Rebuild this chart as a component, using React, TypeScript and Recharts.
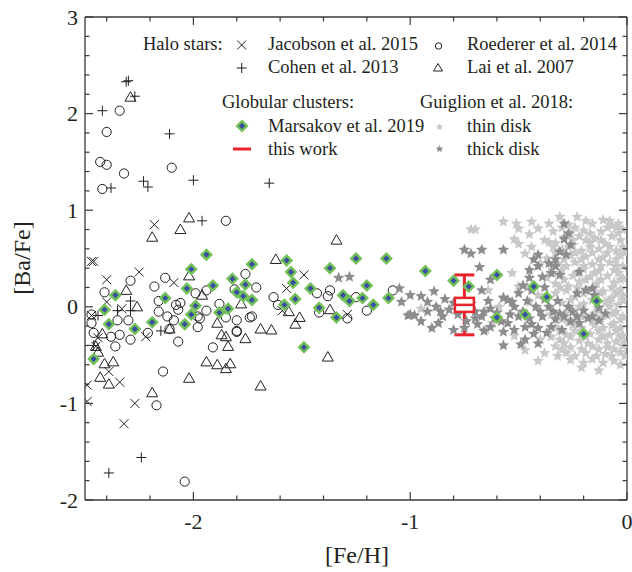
import { ScatterChart, Scatter, XAxis, YAxis, ErrorBar } from "recharts";

const W = 632;
const H = 572;
const FRAME = "#3a3a3a";
const INK = "#231f20";
const BLUE = "#3b4f9f";
const GREEN = "#72c058";
const RED = "#e8232b";
const THIN = "#c8c8c9";
const THICK = "#8c8c8e";
const FONT = "'Liberation Serif', 'Times New Roman', serif";

// axis ticks (minor every 0.2, labels on integers)
const xTicks = [-2.4, -2.2, -2, -1.8, -1.6, -1.4, -1.2, -1, -0.8, -0.6, -0.4, -0.2, 0];
const yTicks = [-2, -1.8, -1.6, -1.4, -1.2, -1, -0.8, -0.6, -0.4, -0.2, 0, 0.2, 0.4, 0.6, 0.8, 1, 1.2, 1.4, 1.6, 1.8, 2, 2.2, 2.4, 2.6, 2.8, 3];

// Halo stars: [Fe/H], [Ba/Fe]
const jacobson = [
  [-2.47, 0.47], [-2.46, 0.47], [-2.4, 0.28], [-2.25, 0.36], [-2.09, 0.25], [-2.18, 0.85],
  [-2.4, 0.05], [-2.33, -0.02], [-2.22, -0.31], [-2.45, -0.41], [-2.47, -0.09], [-2.44, -0.32],
  [-2.39, -0.67], [-2.34, -0.78], [-2.49, -0.98], [-2.27, -1.0], [-2.32, -1.21], [-2.49, -0.81],
  [-1.49, 0.33], [-1.57, 0.19], [-1.59, -0.04], [-1.29, -0.08],
];

const cohen = [
  [-2.31, 2.33], [-2.3, 2.34], [-2.27, 2.18], [-2.42, 2.03], [-2.11, 1.79], [-2.38, 1.23],
  [-2.23, 1.3], [-2.21, 1.24], [-2.0, 1.31], [-1.96, 0.89], [-1.65, 1.28], [-2.44, -0.09],
  [-2.29, 0.06], [-2.35, -0.04], [-2.29, -0.04], [-2.15, -0.25], [-2.46, -0.4], [-2.24, -1.56],
  [-2.39, -1.72],
];

const roederer = [
  [-2.34, 2.03], [-2.4, 1.81], [-2.43, 1.5], [-2.4, 1.47], [-2.1, 1.44], [-2.32, 1.38],
  [-2.42, 1.22], [-1.85, 0.89], [-2.29, 0.27], [-2.13, 0.3], [-2.18, 0.21], [-2.41, 0.15],
  [-2.16, 0.06], [-2.16, -0.05], [-2.12, -0.1], [-2.08, 0.02], [-2.06, 0.04], [-2.07, -0.03],
  [-2.09, -0.14], [-2.11, -0.23], [-2.07, -0.36], [-2.47, -0.08], [-2.47, -0.17], [-2.46, -0.27],
  [-2.35, -0.14], [-2.3, -0.14], [-2.34, -0.29], [-2.38, -0.31], [-2.36, -0.41], [-2.29, -0.34],
  [-2.21, -0.27], [-1.98, -0.21], [-1.98, -0.1], [-1.99, 0.14], [-2.14, -0.67], [-2.17, -1.02],
  [-2.04, -1.81], [-1.91, -0.42], [-1.8, -0.26], [-1.76, 0.34], [-1.71, 0.2], [-1.81, 0.18],
  [-1.94, 0.17], [-1.88, 0.03], [-1.94, -0.04], [-1.97, -0.12], [-1.85, -0.11], [-1.8, -0.14],
  [-1.74, -0.11], [-1.8, -0.25], [-1.63, 0.1], [-1.61, 0.02], [-1.37, 0.17], [-1.43, 0.14],
  [-1.38, 0.11], [-1.42, -0.06], [-1.25, 0.1], [-1.2, -0.04], [-1.08, 0.17], [-1.29, -0.12],
  [-1.73, -0.1],
];

const lai = [
  [-2.29, 2.17], [-2.02, 0.92], [-2.06, 0.8], [-2.19, 0.72], [-2.31, 0.17], [-2.26, 0.0],
  [-2.02, 0.32], [-1.96, 0.12], [-1.78, 0.03], [-1.34, 0.69], [-1.62, 0.49], [-1.51, -0.11],
  [-1.53, -0.18], [-1.56, -0.05], [-1.69, -0.23], [-1.64, -0.24], [-1.37, -0.03], [-1.89, -0.17],
  [-1.87, -0.29], [-1.85, -0.31], [-1.76, -0.33], [-1.84, -0.41], [-2.42, -0.28], [-2.37, -0.57],
  [-2.41, -0.59], [-2.43, -0.73], [-2.39, -0.8], [-2.19, -0.89], [-2.02, -0.74], [-1.94, -0.57],
  [-1.89, -0.6], [-1.85, -0.64], [-1.83, -0.59], [-1.69, -0.82], [-1.38, -0.52], [-2.45, -0.41],
  [-2.44, -0.47], [-2.11, -0.23],
];

// Globular clusters
const marsakov = [
  [-2.46, -0.54], [-2.36, 0.12], [-2.41, -0.03], [-2.39, -0.18], [-2.27, -0.23], [-2.19, -0.16],
  [-2.13, 0.09], [-2.01, 0.39], [-2.03, 0.19], [-1.94, 0.54], [-1.99, 0.01], [-2.01, -0.08],
  [-2.04, -0.18], [-1.91, 0.22], [-1.88, -0.06], [-1.84, -0.02], [-1.82, 0.29], [-1.8, 0.15],
  [-1.76, 0.23], [-1.77, 0.11], [-1.73, 0.07], [-1.73, 0.44], [-1.57, 0.48], [-1.55, 0.36],
  [-1.54, 0.25], [-1.53, 0.08], [-1.58, 0.02], [-1.46, 0.19], [-1.42, -0.01], [-1.34, -0.11],
  [-1.37, 0.4], [-1.25, 0.5], [-1.11, 0.5], [-0.93, 0.37], [-1.31, 0.12], [-1.28, 0.06],
  [-1.22, 0.09], [-1.2, 0.22], [-1.17, 0.02], [-1.1, 0.09], [-1.49, -0.42], [-0.8, 0.27],
  [-0.73, 0.21], [-0.6, 0.33], [-0.6, -0.11], [-0.47, -0.08], [-0.43, 0.21], [-0.37, 0.1],
  [-0.14, 0.06], [-0.2, -0.28],
];

// Guiglion et al. 2018
const thinDisk = [
  [-0.72, 0.8], [-0.7, 0.8], [-0.57, 0.88], [-0.51, 0.86], [-0.5, 0.81], [-0.41, 0.81],
  [-0.52, 0.7], [-0.5, 0.65], [-0.38, 0.69], [-0.53, 0.35], [-0.95, -0.02], [-0.57, 0.1],
  [-0.59, 0.0], [-0.64, 0.17], [-0.5, 0.21], [-0.62, -0.17], [-0.65, -0.24], [-0.4, -0.34],
  [-0.77, 0.0], [-0.45, 0.75], [-0.44, 0.62], [-0.47, 0.55], [-0.4, 0.45], [-0.44, 0.88],
  [-0.36, 0.86], [-0.46, 0.2], [-0.45, 0.05], [-0.52, -0.3], [-0.47, -0.45], [-0.38, -0.48],
  [-0.41, -0.56],
  [-0.31, 0.93], [-0.23, 0.93], [-0.11, 0.9], [-0.04, 0.86], [-0.19, 0.89], [-0.08, 0.89],
  [-0.27, 0.85], [-0.16, 0.86], [-0.07, 0.84],
  [-0.3, 0.82], [-0.24, 0.82], [-0.09, 0.82], [-0.05, 0.82],
  [-0.34, 0.78], [-0.2, 0.79], [-0.12, 0.78], [-0.02, 0.8],
  [-0.26, 0.76], [-0.17, 0.76], [-0.04, 0.76],
  [-0.29, 0.72], [-0.22, 0.73], [-0.15, 0.71], [-0.07, 0.73], [-0.36, 0.67],
  [-0.25, 0.69], [-0.19, 0.69], [-0.12, 0.69], [-0.03, 0.69],
  [-0.33, 0.66], [-0.25, 0.64], [-0.17, 0.66], [-0.1, 0.65], [-0.02, 0.62],
  [-0.34, 0.62], [-0.27, 0.62], [-0.17, 0.62], [-0.08, 0.62],
  [-0.3, 0.59], [-0.21, 0.58], [-0.13, 0.6], [-0.05, 0.58],
  [-0.33, 0.56], [-0.24, 0.56], [-0.16, 0.56], [-0.09, 0.56], [-0.01, 0.56],
  [-0.37, 0.5], [-0.26, 0.53], [-0.19, 0.52], [-0.11, 0.51], [-0.03, 0.53],
  [-0.29, 0.49], [-0.21, 0.49], [-0.13, 0.49], [-0.05, 0.49],
  [-0.32, 0.45], [-0.24, 0.46], [-0.16, 0.44], [-0.08, 0.46], [-0.02, 0.42],
  [-0.35, 0.42], [-0.28, 0.42], [-0.2, 0.42], [-0.12, 0.42], [-0.05, 0.42],
  [-0.3, 0.38], [-0.2, 0.39], [-0.13, 0.37], [-0.06, 0.38],
  [-0.34, 0.35], [-0.23, 0.35], [-0.15, 0.35], [-0.04, 0.35],
  [-0.37, 0.3], [-0.25, 0.32], [-0.17, 0.31], [-0.09, 0.32], [-0.02, 0.3],
  [-0.29, 0.28], [-0.19, 0.28], [-0.12, 0.28], [-0.03, 0.28],
  [-0.33, 0.24], [-0.27, 0.21], [-0.22, 0.26], [-0.14, 0.24], [-0.06, 0.25],
  [-0.31, 0.2], [-0.23, 0.2], [-0.15, 0.2], [-0.07, 0.2],
  [-0.28, 0.17], [-0.19, 0.18], [-0.11, 0.16], [-0.03, 0.18],
  [-0.33, 0.14], [-0.2, 0.14], [-0.12, 0.14], [-0.05, 0.14],
  [-0.41, 0.12], [-0.24, 0.1], [-0.15, 0.11], [-0.07, 0.09], [-0.02, 0.12],
  [-0.26, 0.07], [-0.16, 0.07], [-0.08, 0.07], [-0.02, 0.07],
  [-0.3, 0.04], [-0.2, 0.03], [-0.1, 0.05], [-0.04, 0.02],
  [-0.22, 0.0], [-0.08, 0.0],
  [-0.26, -0.03], [-0.13, -0.04], [-0.05, -0.05],
  [-0.29, -0.07], [-0.15, -0.07], [-0.06, -0.07],
  [-0.35, -0.08], [-0.21, -0.1], [-0.09, -0.09], [-0.02, -0.1],
  [-0.3, -0.13], [-0.23, -0.13], [-0.12, -0.13], [-0.03, -0.13],
  [-0.27, -0.16], [-0.16, -0.15], [-0.06, -0.17],
  [-0.25, -0.19], [-0.15, -0.19], [-0.07, -0.19],
  [-0.33, -0.21], [-0.21, -0.22], [-0.11, -0.22], [-0.03, -0.22],
  [-0.31, -0.25], [-0.24, -0.25], [-0.13, -0.25], [-0.05, -0.25],
  [-0.28, -0.29], [-0.17, -0.28], [-0.08, -0.29], [-0.02, -0.3],
  [-0.35, -0.31], [-0.26, -0.31], [-0.19, -0.31], [-0.11, -0.31], [-0.03, -0.31],
  [-0.31, -0.34], [-0.22, -0.35], [-0.13, -0.34], [-0.05, -0.36],
  [-0.29, -0.38], [-0.18, -0.38], [-0.09, -0.38], [-0.01, -0.38],
  [-0.33, -0.41], [-0.26, -0.42], [-0.16, -0.41], [-0.09, -0.42], [-0.02, -0.4],
  [-0.3, -0.44], [-0.21, -0.44], [-0.13, -0.44], [-0.06, -0.44],
  [-0.28, -0.48], [-0.19, -0.48], [-0.1, -0.49], [-0.03, -0.47],
  [-0.32, -0.51], [-0.24, -0.51], [-0.14, -0.51], [-0.07, -0.51], [-0.01, -0.51],
  [-0.26, -0.55], [-0.16, -0.54], [-0.06, -0.56],
  [-0.2, -0.58], [-0.11, -0.58],
  [-0.21, -0.63], [-0.03, -0.6], [-0.13, -0.66],
];

const thickDisk = [
  [-1.33, 0.3], [-1.28, 0.31], [-1.05, 0.19], [-1.0, 0.12], [-1.04, 0.05], [-0.95, 0.11],
  [-0.89, 0.16], [-0.92, 0.05], [-1.0, -0.08], [-1.01, -0.09], [-0.98, -0.09], [-0.87, -0.17],
  [-0.88, 0.0], [-0.75, 0.59], [-0.72, 0.55], [-0.67, 0.59], [-0.57, 0.59], [-0.68, 0.41],
  [-0.47, -0.34], [-0.41, -0.38], [-0.8, -0.24], [-0.29, 0.86], [-0.29, 0.7], [-0.27, 0.76],
  [-0.28, 0.54], [-0.33, 0.49], [-0.41, 0.54], [-0.43, 0.49], [-0.45, 0.38], [-0.41, 0.42],
  [-0.39, 0.31], [-0.35, 0.35], [-0.31, 0.33], [-0.22, 0.36], [-0.16, 0.19], [-0.23, 0.14],
  [-0.5, 0.14], [-0.55, 0.07], [-0.45, 0.3], [-0.67, 0.17], [-0.63, 0.28], [-0.57, 0.09],
  [-0.52, 0.0], [-0.5, -0.1], [-0.42, 0.0], [-0.36, 0.0], [-0.31, -0.07], [-0.27, 0.0],
  [-0.23, -0.1], [-0.19, 0.17], [-0.16, -0.1], [-0.1, -0.07], [-0.3, -0.24], [-0.35, -0.21],
  [-0.41, -0.22], [-0.47, -0.21], [-0.37, -0.27], [-0.67, -0.1], [-0.63, -0.02], [-0.7, -0.05],
  [-0.82, -0.03], [-0.85, -0.1], [-0.63, -0.21], [-0.57, -0.26], [-0.57, -0.4], [-0.49, -0.39],
  [-0.15, 0.12], [-0.78, -0.08], [-0.74, -0.15], [-0.69, -0.18], [-0.61, -0.12], [-0.55, -0.17],
  [-0.45, -0.12], [-0.39, -0.1], [-0.33, -0.13], [-0.26, -0.15], [-0.2, -0.04], [-0.13, -0.01],
  [-0.84, 0.08], [-0.86, -0.05], [-0.8, 0.04], [-0.76, -0.02], [-0.72, 0.03], [-0.7, -0.12],
  [-0.66, -0.05], [-0.64, 0.06], [-0.6, -0.06], [-0.58, -0.15], [-0.54, -0.08], [-0.53, 0.05],
  [-0.48, -0.05], [-0.46, 0.06], [-0.44, -0.18], [-0.4, -0.05], [-0.38, 0.08], [-0.34, -0.05],
  [-0.32, 0.06], [-0.29, -0.1], [-0.25, -0.05], [-0.22, -0.17], [-0.18, -0.12], [-0.13, -0.14],
  [-0.52, -0.24], [-0.43, -0.28], [-0.66, -0.25], [-0.75, -0.22], [-0.92, -0.05], [-0.95, -0.15],
  [-0.9, -0.22], [-0.48, 0.22], [-0.44, 0.17], [-0.38, 0.2], [-0.36, 0.45], [-0.33, 0.42],
  [-0.31, 0.57], [-0.26, 0.64],
];

// this work: mean with error
const thisWork = [{ x: -0.75, y: 0.02, err: 0.31 }];

const pts = (a: number[][]) => a.map(([x, y]) => ({ x, y }));

const isMajor = (v: number) => Math.abs(v - Math.round(v)) < 1e-6;
const tickLen = (v: number) => (isMajor(v) ? 8 : 4.5);
const fmt = (v: number) => String(Math.round(v) + 0);

const BottomTick = ({ x, y, payload }: any) => (
  <g>
    <line x1={x} x2={x} y1={y} y2={y - tickLen(payload.value)} stroke={FRAME} strokeWidth={1.2} />
    {isMajor(payload.value) && (
      <text x={x} y={y + 29} textAnchor="middle" fontSize={22} fontFamily={FONT} fill={INK}>
        {fmt(payload.value)}
      </text>
    )}
  </g>
);
const TopTick = ({ x, y, payload }: any) => (
  <line x1={x} x2={x} y1={y} y2={y + tickLen(payload.value)} stroke={FRAME} strokeWidth={1.2} />
);
const LeftTick = ({ x, y, payload }: any) => (
  <g>
    <line x1={x} x2={x + tickLen(payload.value)} y1={y} y2={y} stroke={FRAME} strokeWidth={1.2} />
    {isMajor(payload.value) && (
      <text x={x - 7} y={y + 7.5} textAnchor="end" fontSize={22} fontFamily={FONT} fill={INK}>
        {fmt(payload.value)}
      </text>
    )}
  </g>
);
const RightTick = ({ x, y, payload }: any) => (
  <line x1={x} x2={x - tickLen(payload.value)} y1={y} y2={y} stroke={FRAME} strokeWidth={1.2} />
);

// marker shapes
const starPath = (cx: number, cy: number, R: number, r: number) => {
  let d = "";
  for (let i = 0; i < 10; i++) {
    const a = -Math.PI / 2 + (i * Math.PI) / 5;
    const rad = i % 2 === 0 ? R : r;
    d += `${i === 0 ? "M" : "L"}${cx + rad * Math.cos(a)},${cy + rad * Math.sin(a)}`;
  }
  return d + "Z";
};
const Circle = ({ cx, cy }: any) => <circle cx={cx} cy={cy} r={4.6} fill="none" stroke={INK} strokeWidth={1} />;
const Tri = ({ cx, cy }: any) => (
  <polygon points={`${cx},${cy - 5.5} ${cx + 5.5},${cy + 4} ${cx - 5.5},${cy + 4}`} fill="none" stroke={INK} strokeWidth={1} />
);
const XMark = ({ cx, cy }: any) => (
  <path d={`M${cx - 4.5},${cy - 4.5}L${cx + 4.5},${cy + 4.5}M${cx - 4.5},${cy + 4.5}L${cx + 4.5},${cy - 4.5}`} stroke={INK} strokeWidth={1} />
);
const PlusMark = ({ cx, cy }: any) => (
  <path d={`M${cx - 5},${cy}L${cx + 5},${cy}M${cx},${cy - 5}L${cx},${cy + 5}`} stroke={INK} strokeWidth={1} />
);
const Diamond = ({ cx, cy }: any) => (
  <polygon points={`${cx},${cy - 4.8} ${cx + 4.8},${cy} ${cx},${cy + 4.8} ${cx - 4.8},${cy}`} fill={BLUE} stroke={GREEN} strokeWidth={2.4} />
);
const ThinStar = ({ cx, cy }: any) => <path d={starPath(cx, cy, 6, 2.7)} fill={THIN} />;
const ThickStar = ({ cx, cy }: any) => <path d={starPath(cx, cy, 6, 2.7)} fill={THICK} />;
const BoxMark = ({ cx, cy }: any) => (
  <g>
    <rect x={cx - 9.5} y={cy - 7} width={19} height={14} fill="#fff" stroke={RED} strokeWidth={2.5} />
    <line x1={cx - 9.5} x2={cx + 9.5} y1={cy} y2={cy} stroke={RED} strokeWidth={2.5} />
  </g>
);

const Legend = () => {
  const t = { fontSize: 18.5, fontFamily: FONT, fill: INK } as const;
  return (
    <svg width={W} height={H} style={{ position: "absolute", left: 0, top: 0, pointerEvents: "none" }}>
      <text x={143} y={50} {...t}>Halo stars:</text>
      <XMark cx={241.7} cy={45} />
      <text x={268} y={50} {...t}>Jacobson et al. 2015</text>
      <circle cx={438.5} cy={46} r={3.2} fill="none" stroke={INK} strokeWidth={1} />
      <text x={467} y={50} {...t}>Roederer et al. 2014</text>
      <PlusMark cx={241.7} cy={68} />
      <text x={268} y={73} {...t}>Cohen et al. 2013</text>
      <polygon points="438,63.5 442.5,71 433.5,71" fill="none" stroke={INK} strokeWidth={1} />
      <text x={467} y={73} {...t}>Lai et al. 2007</text>
      <text x={222} y={108} {...t}>Globular clusters:</text>
      <text x={420} y={108} {...t}>Guiglion et al. 2018:</text>
      <Diamond cx={242} cy={126} />
      <text x={268} y={132} {...t}>Marsakov et al. 2019</text>
      <path d={starPath(439.5, 127, 4, 1.8)} fill={THIN} />
      <text x={467} y={132} {...t}>thin disk</text>
      <line x1={233} x2={251} y1={149} y2={149} stroke={RED} strokeWidth={3} />
      <text x={268} y={155} {...t}>this work</text>
      <path d={starPath(439.5, 149, 4, 1.8)} fill={THICK} />
      <text x={467} y={155} {...t}>thick disk</text>
      <text transform="translate(30,258) rotate(-90)" textAnchor="middle" fontSize={24} fontFamily={FONT} fill={INK}>
        [Ba/Fe]
      </text>
      <text x={357} y={563} textAnchor="middle" fontSize={24} fontFamily={FONT} fill={INK}>
        [Fe/H]
      </text>
    </svg>
  );
};

const App = () => {
  return (
    <div style={{ position: "absolute", left: 0, top: 0, width: W, height: H, background: "#fff" }}>
      <ScatterChart width={W} height={H} margin={{ top: 0, right: 0, bottom: 0, left: 0 }}>
        <XAxis
          type="number"
          dataKey="x"
          domain={[-2.5, 0]}
          ticks={xTicks}
          interval={0}
          allowDataOverflow
          height={72}
          tickSize={0}
          tickMargin={0}
          tickLine={false}
          axisLine={{ stroke: FRAME, strokeWidth: 1.3 }}
          tick={<BottomTick />}
        />
        <XAxis
          xAxisId="top"
          orientation="top"
          type="number"
          dataKey="x"
          domain={[-2.5, 0]}
          ticks={xTicks}
          interval={0}
          allowDataOverflow
          height={17}
          tickSize={0}
          tickMargin={0}
          tickLine={false}
          axisLine={{ stroke: FRAME, strokeWidth: 1.3 }}
          tick={<TopTick />}
        />
        <YAxis
          type="number"
          dataKey="y"
          domain={[-2, 3]}
          ticks={yTicks}
          interval={0}
          allowDataOverflow
          width={85}
          tickSize={0}
          tickMargin={0}
          tickLine={false}
          axisLine={{ stroke: FRAME, strokeWidth: 1.3 }}
          tick={<LeftTick />}
        />
        <YAxis
          yAxisId="right"
          orientation="right"
          type="number"
          dataKey="y"
          domain={[-2, 3]}
          ticks={yTicks}
          interval={0}
          allowDataOverflow
          width={5}
          tickSize={0}
          tickMargin={0}
          tickLine={false}
          axisLine={{ stroke: FRAME, strokeWidth: 1.3 }}
          tick={<RightTick />}
        />
        <Scatter data={pts(roederer)} shape={Circle} isAnimationActive={false} />
        <Scatter data={pts(lai)} shape={Tri} isAnimationActive={false} />
        <Scatter data={pts(jacobson)} shape={XMark} isAnimationActive={false} />
        <Scatter data={pts(cohen)} shape={PlusMark} isAnimationActive={false} />
        <Scatter data={pts(thinDisk)} shape={ThinStar} isAnimationActive={false} />
        <Scatter data={pts(thickDisk)} shape={ThickStar} isAnimationActive={false} />
        <Scatter data={pts(marsakov)} shape={Diamond} isAnimationActive={false} />
        <Scatter data={thisWork} shape={BoxMark} isAnimationActive={false}>
          <ErrorBar dataKey="err" direction="y" width={10} stroke={RED} strokeWidth={3} isAnimationActive={false} />
        </Scatter>
      </ScatterChart>
      <Legend />
    </div>
  );
};

export default App;
